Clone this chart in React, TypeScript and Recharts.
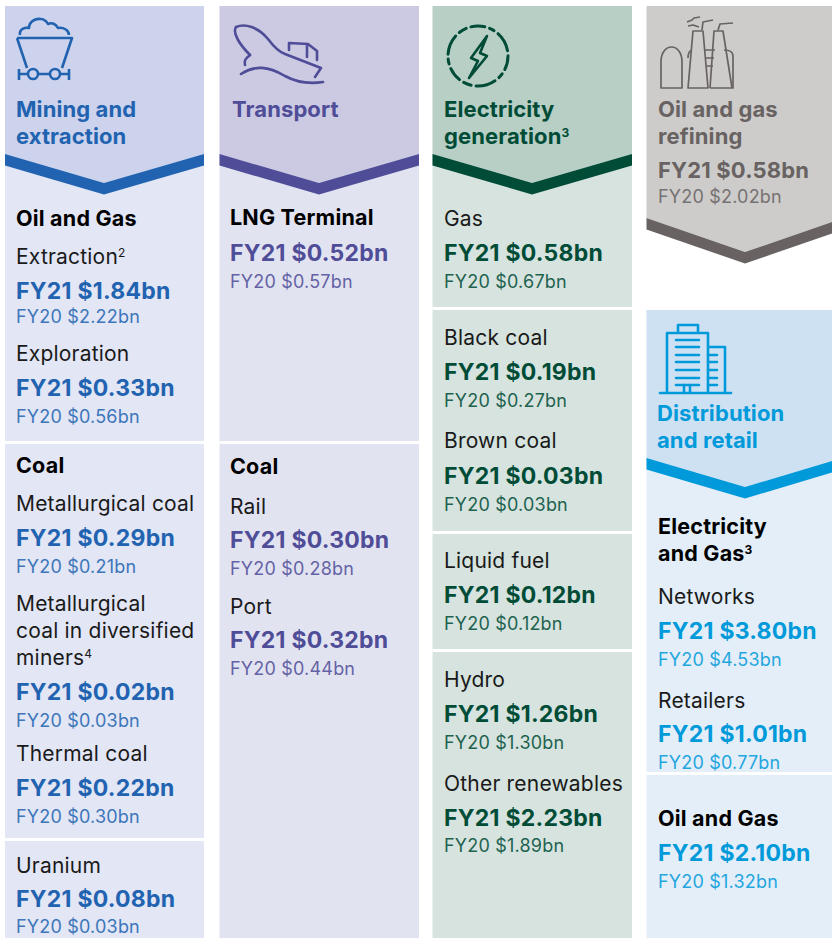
import { ComposedChart, Scatter, ReferenceArea, XAxis, YAxis } from 'recharts';

const WIDTH = 832;
const HEIGHT = 938;
const FONT = 'Inter, "Noto Sans", sans-serif';

// ---- data
const miningHeads = ['Oil and Gas', 'Coal'];
const miningNames = [['Extraction'], ['Exploration'], ['Metallurgical coal'], ['Metallurgical', 'coal in diversified', 'miners'], ['Thermal coal'], ['Uranium']];
const miningNotes = ['2', '', '', '4', '', ''];
const miningFY21 = ['1.84', '0.33', '0.29', '0.02', '0.22', '0.08'];
const miningFY20 = ['2.22', '0.56', '0.21', '0.03', '0.30', '0.03'];

const transportHeads = ['LNG Terminal', 'Coal'];
const transportNames = [[], ['Rail'], ['Port']];
const transportNotes = ['', '', ''];
const transportFY21 = ['0.52', '0.30', '0.32'];
const transportFY20 = ['0.57', '0.28', '0.44'];

const generationHeads: string[] = [];
const generationNames = [['Gas'], ['Black coal'], ['Brown coal'], ['Liquid fuel'], ['Hydro'], ['Other renewables']];
const generationNotes = ['', '', '', '', '', ''];
const generationFY21 = ['0.58', '0.19', '0.03', '0.12', '1.26', '2.23'];
const generationFY20 = ['0.67', '0.27', '0.03', '0.12', '1.30', '1.89'];

const refiningHeads: string[] = [];
const refiningNames = [[]];
const refiningNotes = [''];
const refiningFY21 = ['0.58'];
const refiningFY20 = ['2.02'];

const retailHeads = ['Electricity', 'and Gas', 'Oil and Gas'];
const retailNames = [['Networks'], ['Retailers'], []];
const retailNotes = ['', '', ''];
const retailFY21 = ['3.80', '1.01', '2.10'];
const retailFY20 = ['4.53', '0.77', '1.32'];

// ---- layout, in the pixel units of the hidden axes
const panels = [
  { x1: 5, x2: 204, y1: 6, y2: 938, tip: 104, head: '#cdd3ec', body: '#e2e6f5', band: '#2163b0', chev: [154, 183], right: 154, gaps: [441, 838], title: ['Mining and', 'extraction'], titleY: [117, 144], text: 16, titleX: 16 },
  { x1: 219.5, x2: 419, y1: 6, y2: 938, tip: 319, head: '#cccae2', body: '#e2e3f1', band: '#4f4c98', chev: [154, 183], right: 154, gaps: [441], title: ['Transport'], titleY: [117], text: 230, titleX: 232 },
  { x1: 432.5, x2: 632, y1: 6, y2: 938, tip: 532, head: '#b8cfc6', body: '#d6e3de', band: '#004c37', chev: [154, 183], right: 154, gaps: [307, 531, 649], title: ['Electricity', 'generation'], titleY: [117, 144], text: 444, titleX: 444 },
  { x1: 646.5, x2: 832, y1: 6, y2: 252, tip: 745, head: '#cdcccb', body: '#cdcccb', band: '#686362', chev: [218, 252], right: 222, gaps: [], title: ['Oil and gas', 'refining'], titleY: [117, 144], text: 658, titleX: 658 },
  { x1: 646.5, x2: 832, y1: 310, y2: 938, tip: 745, head: '#cee1f3', body: '#e3eef9', band: '#009ada', chev: [458, 487], right: 461, gaps: [772], title: ['Distribution', 'and retail'], titleY: [421, 448], text: 658, titleX: 657 },
];

const headYs = [[226, 473], [225, 474], [], [], [534, 561, 826]];
const nameYs = [[[264], [361], [511], [611, 638, 665], [761], [873]], [[], [514], [614]], [[226], [345], [448], [568], [687], [791]], [[]], [[604], [708], []]];
const valueYs = [[299, 396, 546, 700, 796, 907], [261, 548, 648], [261, 380, 484, 603, 722, 826], [178], [639, 742, 861]];
const priorYs = [[323, 423, 573, 727, 823, 933], [288, 575, 675], [288, 407, 511, 630, 749, 852], [203], [666, 769, 888]];

type Line = { x: number; y: number; kind: 'title' | 'head' | 'name' | 'value' | 'valueSmall' | 'prior'; text: string; note?: string; color: string };

function buildLines(i: number, heads: string[], names: string[][], notes: string[], fy21: string[], fy20: string[], headNotes: string[] = []) {
  const p = panels[i];
  const lines: Line[] = [];
  const x = p.text;
  p.title.forEach((t, k) => lines.push({ x: p.titleX, y: p.titleY[k], kind: 'title', text: t, note: i === 2 && k === 1 ? '3' : '', color: p.band }));
  heads.forEach((t, k) => lines.push({ x, y: headYs[i][k], kind: 'head', text: t, note: headNotes[k], color: '#000' }));
  names.forEach((rows, e) => {
    rows.forEach((t, k) => lines.push({ x, y: nameYs[i][e][k], kind: 'name', text: t, note: k === rows.length - 1 ? notes[e] : '', color: '#1a1a1a' }));
    lines.push({ x, y: valueYs[i][e], kind: i === 3 ? 'valueSmall' : 'value', text: `FY21 $${fy21[e]}bn`, color: p.band });
    lines.push({ x, y: priorYs[i][e], kind: 'prior', text: `FY20 $${fy20[e]}bn`, color: p.band });
  });
  return lines;
}

const allLines = [
  buildLines(0, miningHeads, miningNames, miningNotes, miningFY21, miningFY20),
  buildLines(1, transportHeads, transportNames, transportNotes, transportFY21, transportFY20),
  buildLines(2, generationHeads, generationNames, generationNotes, generationFY21, generationFY20),
  buildLines(3, refiningHeads, refiningNames, refiningNotes, refiningFY21, refiningFY20),
  buildLines(4, retailHeads, retailNames, retailNotes, retailFY21, retailFY20, ['', '3', '']),
];

const fontOf = {
  title: { size: 22, weight: 700, ls: 0.1 },
  head: { size: 21.5, weight: 700, ls: 0.2 },
  name: { size: 21, weight: 400, ls: 0.2 },
  value: { size: 23, weight: 700, ls: 0.25 },
  valueSmall: { size: 22, weight: 700, ls: 0.15 },
  prior: { size: 18, weight: 400, ls: 0.2 },
};

const TextLine = (props: any) => {
  const { cx, cy, payload } = props;
  const f = fontOf[payload.kind as keyof typeof fontOf];
  return (
    <text x={cx} y={cy} fill={payload.color} fontFamily={FONT} fontSize={f.size} fontWeight={f.weight} letterSpacing={f.ls} opacity={payload.kind === 'prior' ? 0.85 : 1}>
      {payload.text}
      {payload.note ? <tspan dy={-7} fontSize={12}>{payload.note}</tspan> : null}
    </text>
  );
};

// header block with the chevron band along its lower edge
const Header = (props: any) => {
  const { x, y, width, p } = props;
  const r = x + width;
  const top = y;
  const l = p.chev[0];
  const t = p.chev[1];
  const rr = p.right;
  const thick = 11.5;
  return (
    <g>
      <polygon points={`${x},${top} ${r},${top} ${r},${rr} ${p.tip},${t} ${x},${l}`} fill={p.head} />
      <polygon points={`${x},${l} ${p.tip},${t} ${r},${rr} ${r},${rr + thick} ${p.tip},${t + thick} ${x},${l + thick}`} fill={p.band} />
    </g>
  );
};

const CartIcon = ({ cx, cy }: any) => (
  <g transform={`translate(${cx},${cy})`} fill="none" stroke="#2163b0" strokeWidth={2.6} strokeLinejoin="round">
    <path d="M20 35 C19 29 25 27 29 28 C29 22 35 18 41 19 C44 19 47 22 48 24 C52 22 56 24 58 28 C63 27 69 30 69 35" />
    <path d="M17 38 L72 38 L62 68 M17 38 L27 68" />
    <circle cx={33} cy={74} r={5} />
    <circle cx={55} cy={74} r={5} />
    <path d="M19 74 L28 74 M38 74 L50 74 M60 74 L69 74 M19 69 L19 80 M69 69 L69 80" />
  </g>
);

const ShipIcon = ({ cx, cy }: any) => (
  <g transform={`translate(${cx},${cy})`} fill="none" stroke="#4f4c98" strokeWidth={2.6} strokeLinecap="round" strokeLinejoin="round">
    <path d="M250 55 C240 45 232 33 236 27 C245 23 258 27 268 39 C274 47 279 52 285 54 L321 68 L315 77" />
    <path d="M250 55 C245 59 244 61 245 65" />
    <path d="M241 74 C255 65 268 66 285 76 C296 82 310 84 323 82" />
    <path d="M289 50 L289 43 L308 44 L317 51 L317 60 M307 44 L307 57" />
  </g>
);

const BoltIcon = ({ cx, cy }: any) => (
  <g transform={`translate(${cx},${cy})`} fill="none" stroke="#004c37" strokeWidth={3} strokeLinejoin="round">
    <circle cx={478} cy={56} r={30} strokeDasharray="14 5 5 5 20 5 8 5" strokeLinecap="round" />
    <path d="M487 36 L471 58 L478 61 L469 78 L487 56 L480 53 Z" strokeWidth={2.6} />
  </g>
);

const RefineryIcon = ({ cx, cy }: any) => (
  <g transform={`translate(${cx},${cy})`} fill="none" stroke="#686362" strokeWidth={1.7} strokeLinejoin="round">
    <path d="M661 88 L661 62 C661 42 682 42 682 62 L682 88 Z" />
    <path d="M688 88 L693 31 L703 31 L708 88 Z M710 88 L714 31 L723 31 L732 88" />
    <path d="M688 58 C688 53 690 50 692 50 M705 50 L715 50 M706 58 L714 58 M707 66 L713 66 M724 50 C730 50 733 52 733 56 L733 88 L710 88" />
    <path d="M687 22 L692 20 L694 18 L700 17 M688 26 L693 25 L699 27 M702 30 L703 22 L713 20 M718 30 L720 24 L733 23" />
  </g>
);

const TowerIcon = ({ cx, cy }: any) => (
  <g transform={`translate(${cx},${cy})`} fill="none" stroke="#009ada" strokeWidth={2.6} strokeLinecap="round" strokeLinejoin="round">
    <path d="M667 393 L667 333 L708 333 L708 393 M678 333 L678 325 L698 325 L698 333 M708 347 L725 347 L725 393 M660 393 L731 393" />
    <path d="M676 340 L699 340 M676 347 L699 347 M676 355 L699 355 M676 362 L699 362 M676 370 L699 370 M676 378 L699 378 M676 385 L699 385" />
    <path d="M708 355 L717 355 M708 362 L717 362 M708 370 L717 370 M708 378 L717 378 M708 385 L717 385 M684 385 L684 393 M690 385 L690 393" />
  </g>
);

const origin = [{ x: 0, y: 0 }];
const icons = [CartIcon, ShipIcon, BoltIcon, RefineryIcon, TowerIcon];

export default function App() {
  return (
    <div style={{ position: 'absolute', left: 0, top: 0, width: WIDTH, height: HEIGHT, background: '#fff' }}>
      <ComposedChart width={WIDTH} height={HEIGHT} margin={{ top: 0, right: 0, bottom: 0, left: 0 }}>
        <XAxis type="number" dataKey="x" domain={[0, WIDTH]} hide allowDataOverflow />
        <YAxis type="number" dataKey="y" domain={[0, HEIGHT]} reversed hide allowDataOverflow />
        {panels.map((p, i) => (
          <ReferenceArea key={`body-${i}`} x1={p.x1} x2={p.x2} y1={p.chev[0]} y2={p.y2} fill={i === 3 ? 'none' : p.body} fillOpacity={1} stroke="none" ifOverflow="visible" />
        ))}
        {panels.map((p, i) => (
          <ReferenceArea key={`head-${i}`} x1={p.x1} x2={p.x2} y1={p.y1} y2={p.chev[1]} ifOverflow="visible" shape={(s: any) => <Header {...s} p={p} />} />
        ))}
        {panels.flatMap((p, i) =>
          p.gaps.map((g) => <ReferenceArea key={`gap-${i}-${g}`} x1={p.x1} x2={p.x2} y1={g} y2={g + 3} fill="#fff" fillOpacity={1} stroke="none" ifOverflow="visible" />)
        )}
        {icons.map((Icon, i) => (
          <Scatter key={`icon-${i}`} data={origin} isAnimationActive={false} shape={(s: any) => <Icon cx={s.cx} cy={s.cy} />} />
        ))}
        {allLines.map((lines, i) => (
          <Scatter key={`lines-${i}`} data={lines} isAnimationActive={false} shape={TextLine} />
        ))}
      </ComposedChart>
    </div>
  );
}
